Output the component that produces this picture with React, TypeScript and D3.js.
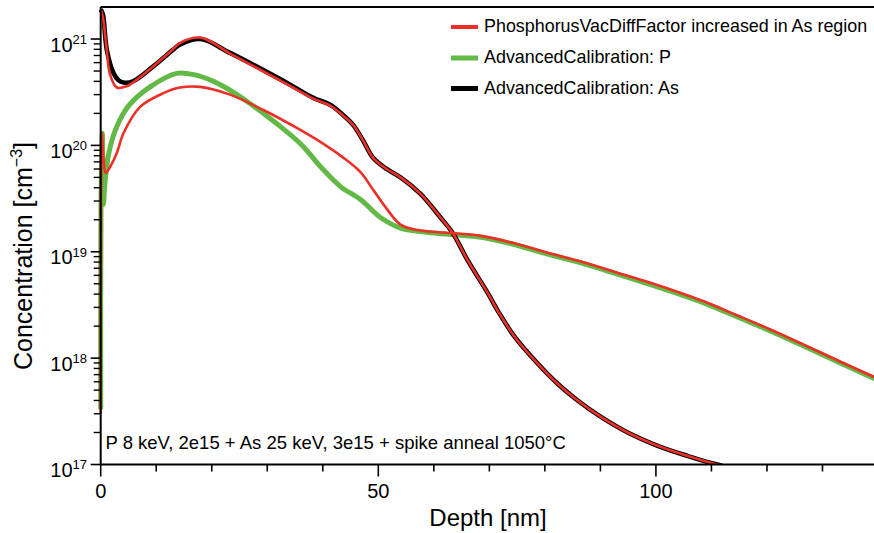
import React, { useEffect } from "react";
import * as d3 from "d3";

const W = 874;
const H = 533;

// ---- axis ticks ----
const xTickValues = [0, 10, 20, 30, 40, 50, 60, 70, 80, 90, 100, 110, 120, 130, 140];
const xLabelValues = [0, 50, 100];
const yMajorValues = [1e17, 1e18, 1e19, 1e20, 1e21];
const yMajorExponents = ["17", "18", "19", "20", "21"];

// ---- AdvancedCalibration: As (black) ----
const asDepth = [0, 0.4, 1.1, 2.3, 3.2, 4.1, 5.8, 9.4, 13, 14.3, 18, 23.3, 29.3, 34.2, 38.3, 41.4, 44, 45.5, 47.3, 49.1, 51.5, 54, 57.6, 61.2, 63.4, 66.1, 69.7, 71.5, 74.5, 78.7, 82.3, 85.9, 90.1, 94.9, 100.3, 105.8, 110.3, 112];
const asCalib = [1.9e21, 1.7e21, 7.9e20, 4.8e20, 4.1e20, 3.9e20, 4.0e20, 5.5e20, 7.9e20, 8.9e20, 1.0e21, 7.4e20, 5.1e20, 3.7e20, 2.8e20, 2.4e20, 1.86e20, 1.55e20, 1.1e20, 7.6e19, 6.0e19, 5.0e19, 3.5e19, 2.1e19, 1.5e19, 8.3e18, 4.1e18, 2.8e18, 1.6e18, 8.9e17, 5.75e17, 4.0e17, 2.8e17, 2.0e17, 1.5e17, 1.2e17, 1.02e17, 0.97e17];

// ---- PhosphorusVacDiffFactor increased: As (red, thin) ----
const asVacDepth = [0, 0.4, 1.1, 1.7, 2.9, 4.7, 5.8, 9.4, 13, 14.3, 18, 23.3, 29.3, 34.2, 38.3, 41.4, 44, 45.5, 47.3, 49.1, 51.5, 54, 57.6, 61.2, 63.4, 66.1, 69.7, 71.5, 74.5, 78.7, 82.3, 85.9, 90.1, 94.9, 100.3, 105.8, 110.3, 112];
const asVac = [1.9e21, 1.6e21, 7.9e20, 4.6e20, 3.5e20, 3.6e20, 3.9e20, 5.5e20, 8.0e20, 9.2e20, 1.03e21, 7.3e20, 4.95e20, 3.6e20, 2.75e20, 2.35e20, 1.84e20, 1.55e20, 1.1e20, 7.6e19, 6.0e19, 5.0e19, 3.5e19, 2.1e19, 1.5e19, 8.3e18, 4.1e18, 2.8e18, 1.6e18, 8.9e17, 5.75e17, 4.0e17, 2.8e17, 2.0e17, 1.5e17, 1.2e17, 1.02e17, 0.97e17];

// ---- AdvancedCalibration: P (green) ----
const pDepth = [0, 0.05, 0.3, 0.5, 0.7, 1.0, 1.3, 1.7, 2.2, 2.9, 3.8, 5.3, 8.9, 13.7, 17, 20.3, 23.3, 26.3, 29.3, 32.4, 36.3, 39.6, 43.2, 46.8, 50.4, 54, 60, 65, 68.5, 74.5, 80.5, 86.5, 92.5, 98.6, 104.6, 108.6, 114.6, 120.6, 126.6, 132.6, 138.6, 141];
const pCalib = [3.3e17, 2.5e19, 1.3e20, 2.8e19, 4.0e19, 5.8e19, 7.6e19, 9.6e19, 1.2e20, 1.5e20, 1.88e20, 2.45e20, 3.55e20, 4.75e20, 4.6e20, 4.0e20, 3.3e20, 2.6e20, 2.0e20, 1.5e20, 1.0e20, 6.3e19, 4.1e19, 3.1e19, 2.1e19, 1.67e19, 1.5e19, 1.43e19, 1.37e19, 1.17e19, 9.5e18, 7.85e18, 6.3e18, 5.0e18, 3.94e18, 3.31e18, 2.45e18, 1.8e18, 1.3e18, 9.3e17, 6.7e17, 5.9e17];

// ---- PhosphorusVacDiffFactor increased: P (red, thin) ----
const pVacDepth = [0, 0.05, 0.2, 0.5, 0.9, 1.7, 2.9, 4.1, 7.1, 11.3, 14.3, 17.9, 23.3, 29.3, 35.4, 40.8, 43.5, 46.8, 49.1, 51.6, 54, 57, 63, 68.5, 74.5, 80.5, 86.5, 92.5, 98.6, 104.6, 108.6, 114.6, 120.6, 126.6, 132.6, 138.6, 141];
const pVac = [3.0e17, 3.0e19, 1.3e20, 7.5e19, 5.5e19, 6.3e19, 8.5e19, 1.3e20, 2.3e20, 3.1e20, 3.5e20, 3.55e20, 3.0e20, 2.15e20, 1.45e20, 9.8e19, 7.8e19, 5.6e19, 3.8e19, 2.5e19, 1.8e19, 1.6e19, 1.5e19, 1.41e19, 1.2e19, 9.8e18, 8.1e18, 6.5e18, 5.2e18, 4.08e18, 3.42e18, 2.53e18, 1.86e18, 1.34e18, 9.6e17, 6.9e17, 6.1e17];

const legendLabels = [
  "PhosphorusVacDiffFactor increased in As region",
  "AdvancedCalibration: P",
  "AdvancedCalibration: As",
];
const annotation = "P 8 keV, 2e15 + As 25 keV, 3e15 + spike anneal 1050°C";

const RED = "#ec2f27";
const GREEN = "#63b946";
const BLACK = "#000000";
const FONT = "'Liberation Sans', Arial, Helvetica, sans-serif";

export default function App() {
  useEffect(() => {
    document.body.style.margin = "0";
  }, []);

  const x = d3.scaleLinear().domain([0, 140]).range([100.7, 878]);
  const y = d3.scaleLog().domain([1e17, 2e21]).range([464.5, 7]);

  const mk = (depth: number[], vals: number[]) =>
    d3
      .line<number>()
      .x((_, i) => x(depth[i]))
      .y((_, i) => y(vals[i]))
      .curve(d3.curveCatmullRom.alpha(0.5))(vals) || "";

  const minor: number[] = [];
  for (let e = 17; e <= 21; e++) {
    for (let m = 2; m <= 9; m++) {
      const v = m * Math.pow(10, e);
      if (v < 2e21) minor.push(v);
    }
  }

  const x0 = x(0);
  const yb = y(1e17);
  const legendColors = [RED, GREEN, BLACK];
  const legendWidths = [4, 5, 5];
  const legendBase = [32, 63, 93.5];

  return (
    <svg width={W} height={H} style={{ display: "block", position: "absolute", left: 0, top: 0 }} fontFamily={FONT}>
      <rect x={0} y={0} width={W} height={H} fill="#fff" />
      <defs>
        <clipPath id="plotClip">
          <rect x={95} y={7} width={W - 95} height={yb - 7} />
        </clipPath>
      </defs>

      {/* lines */}
      <g clipPath="url(#plotClip)" fill="none" strokeLinejoin="round">
        <path d={mk(pDepth, pCalib)} stroke={GREEN} strokeWidth={5} />
        <path d={mk(asDepth, asCalib)} stroke={BLACK} strokeWidth={4.6} />
        <path d={mk(pVacDepth, pVac)} stroke={RED} strokeWidth={2.6} />
        <path d={mk(asVacDepth, asVac)} stroke={RED} strokeWidth={2.6} />
      </g>

      {/* frame */}
      <line x1={x0} x2={W} y1={7} y2={7} stroke="#000" strokeWidth={2} />
      <line x1={x0} x2={W} y1={yb} y2={yb} stroke="#000" strokeWidth={2} />
      <line x1={x0} x2={x0} y1={7} y2={yb} stroke="#000" strokeWidth={2} />

      {/* x ticks */}
      {xTickValues.map((t) => {
        const major = xLabelValues.includes(t);
        return (
          <line key={"xt" + t} x1={x(t)} x2={x(t)} y1={yb} y2={yb + (major ? 12 : 7)} stroke="#000" strokeWidth={1.6} />
        );
      })}
      {xLabelValues.map((t) => (
        <text key={"xl" + t} x={x(t)} y={498} fontSize={20} textAnchor="middle">
          {t}
        </text>
      ))}

      {/* y ticks */}
      {yMajorValues.map((v) => (
        <line key={"ym" + v} x1={x0 - 10} x2={x0} y1={y(v)} y2={y(v)} stroke="#000" strokeWidth={1.6} />
      ))}
      {minor.map((v) => (
        <line key={"yn" + v} x1={x0 - 7} x2={x0} y1={y(v)} y2={y(v)} stroke="#000" strokeWidth={1.4} />
      ))}
      {yMajorValues.map((v, i) => (
        <text key={"yl" + v} x={87} y={y(v) + 12.5} fontSize={20} textAnchor="end">
          10
          <tspan dy={-7.7} fontSize={13}>
            {yMajorExponents[i]}
          </tspan>
        </text>
      ))}

      {/* axis titles */}
      <text x={488} y={526} fontSize={24} textAnchor="middle">
        Depth [nm]
      </text>
      <text transform="translate(32,256) rotate(-90)" fontSize={25} textAnchor="middle">
        Concentration [cm
        <tspan dy={-10} fontSize={16}>
          −3
        </tspan>
        <tspan dy={10}>]</tspan>
      </text>

      {/* annotation */}
      <text x={105.5} y={449} fontSize={18.5}>
        {annotation}
      </text>

      {/* legend */}
      {legendLabels.map((lab, i) => (
        <g key={"lg" + i}>
          <line x1={451} x2={478} y1={legendBase[i] - 5} y2={legendBase[i] - 5} stroke={legendColors[i]} strokeWidth={legendWidths[i]} />
          <text x={484} y={legendBase[i]} fontSize={17.9}>
            {lab}
          </text>
        </g>
      ))}
    </svg>
  );
}
